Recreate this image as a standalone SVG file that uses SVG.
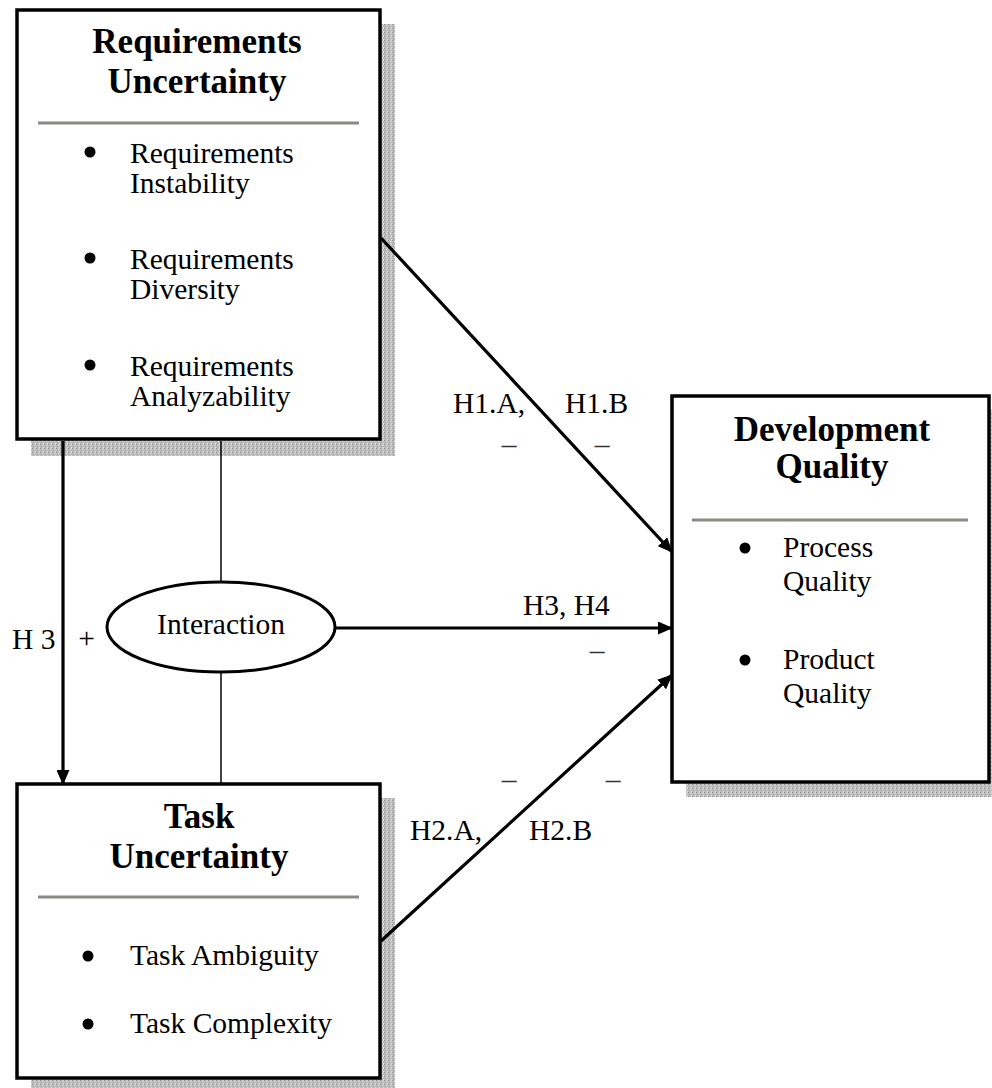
<svg xmlns="http://www.w3.org/2000/svg" width="992" height="1088" viewBox="0 0 992 1088">
  <style>
    .box { fill: #ffffff; stroke: #000000; stroke-width: 3.5; }
    .shadow { fill: url(#dither); stroke: none; }
    .sep { stroke: #8a8a84; stroke-width: 3; }
    .title { font-family: "Liberation Serif", "Times New Roman", serif; font-weight: bold; font-size: 35px; fill: #000; text-anchor: middle; }
    .item { font-family: "Liberation Serif", "Times New Roman", serif; font-size: 29.5px; fill: #000; }
    .lbl { font-family: "Liberation Serif", "Times New Roman", serif; font-size: 29.5px; fill: #000; }
    .dash { font-family: "Liberation Serif", "Times New Roman", serif; font-size: 29.5px; fill: #333; text-anchor: middle; }
    .bullet { fill: #000; }
    .arrow { stroke: #000; stroke-width: 3.2; fill: none; marker-end: url(#ah); }
    .thin { stroke: #000; stroke-width: 1.5; fill: none; }
  </style>
  <defs>
    <pattern id="dither" width="4" height="4" patternUnits="userSpaceOnUse">
      <rect width="4" height="4" fill="#bdbdbd"/>
      <rect x="0" y="0" width="1" height="1" fill="#8f8f8f"/>
      <rect x="2" y="1" width="1" height="1" fill="#e6e6e6"/>
      <rect x="1" y="2" width="1" height="1" fill="#9a9a9a"/>
      <rect x="3" y="3" width="1" height="1" fill="#e0e0e0"/>
      <rect x="3" y="0" width="1" height="1" fill="#d4d4d4"/>
    </pattern>
    <marker id="ah" viewBox="0 0 15 13" refX="14" refY="6.5" markerWidth="15" markerHeight="13" markerUnits="userSpaceOnUse" orient="auto">
      <path d="M0,0 L15,6.5 L0,13 z" fill="#000"/>
    </marker>
  </defs>

  <rect width="992" height="1088" fill="#ffffff"/>

  <!-- Requirements Uncertainty -->
  <g id="node-requirements-uncertainty">
    <rect class="shadow" x="31" y="24" width="364" height="432"/>
    <rect class="box" x="17" y="10" width="363" height="429"/>
    <text class="title" x="197" y="53">Requirements</text>
    <text class="title" x="197" y="93">Uncertainty</text>
    <line class="sep" x1="38" y1="123" x2="359" y2="123"/>
    <circle class="bullet" cx="90" cy="152" r="5.5"/>
    <text class="item" x="130" y="163">Requirements</text>
    <text class="item" x="130" y="193">Instability</text>
    <circle class="bullet" cx="90" cy="258" r="5.5"/>
    <text class="item" x="130" y="269">Requirements</text>
    <text class="item" x="130" y="299">Diversity</text>
    <circle class="bullet" cx="90" cy="365" r="5.5"/>
    <text class="item" x="130" y="376">Requirements</text>
    <text class="item" x="130" y="406">Analyzability</text>
  </g>

  <!-- Task Uncertainty -->
  <g id="node-task-uncertainty">
    <rect class="shadow" x="31" y="798" width="364" height="290"/>
    <rect class="box" x="17" y="784" width="363" height="294"/>
    <text class="title" x="199" y="828">Task</text>
    <text class="title" x="199" y="868">Uncertainty</text>
    <line class="sep" x1="38" y1="897" x2="359" y2="897"/>
    <circle class="bullet" cx="88" cy="956" r="5.5"/>
    <text class="item" x="130" y="965">Task Ambiguity</text>
    <circle class="bullet" cx="88" cy="1024" r="5.5"/>
    <text class="item" x="130" y="1033">Task Complexity</text>
  </g>

  <!-- Development Quality -->
  <g id="node-development-quality">
    <rect class="shadow" x="686" y="410" width="320" height="387"/>
    <rect class="box" x="672" y="396" width="317" height="386"/>
    <text class="title" x="832" y="441">Development</text>
    <text class="title" x="832" y="478">Quality</text>
    <line class="sep" x1="692" y1="520" x2="968" y2="520"/>
    <circle class="bullet" cx="745" cy="548" r="5.5"/>
    <text class="item" x="783" y="557">Process</text>
    <text class="item" x="783" y="591">Quality</text>
    <circle class="bullet" cx="745" cy="660" r="5.5"/>
    <text class="item" x="783" y="669">Product</text>
    <text class="item" x="783" y="703">Quality</text>
  </g>

  <!-- Interaction -->
  <g id="node-interaction">
    <ellipse cx="221" cy="627" rx="114" ry="45" fill="#fff" stroke="#000" stroke-width="3"/>
    <text class="lbl" x="221" y="634" text-anchor="middle">Interaction</text>
  </g>

  <!-- Connectors -->
  <g id="connectors">
    <line class="thin" x1="221" y1="441" x2="221" y2="582"/>
    <line class="thin" x1="221" y1="672" x2="221" y2="783"/>
    <line class="arrow" x1="63" y1="441" x2="63" y2="784"/>
    <line class="arrow" x1="381" y1="238" x2="672" y2="552"/>
    <line class="arrow" x1="335" y1="628" x2="672" y2="628"/>
    <line class="arrow" x1="381" y1="941" x2="672" y2="675"/>
  </g>

  <!-- Connector labels -->
  <g id="labels">
    <text class="lbl" x="453" y="413">H1.A,</text>
    <text class="lbl" x="565" y="413">H1.B</text>
    <text class="dash" x="509" y="454">–</text>
    <text class="dash" x="602" y="454">–</text>
    <text class="lbl" x="523" y="615">H3, H4</text>
    <text class="dash" x="597" y="660">–</text>
    <text class="lbl" x="12" y="649">H 3</text>
    <text class="lbl" x="86.5" y="648" text-anchor="middle">+</text>
    <text class="dash" x="509" y="789">–</text>
    <text class="dash" x="613" y="789">–</text>
    <text class="lbl" x="410" y="840">H2.A,</text>
    <text class="lbl" x="529" y="840">H2.B</text>
  </g>
</svg>
